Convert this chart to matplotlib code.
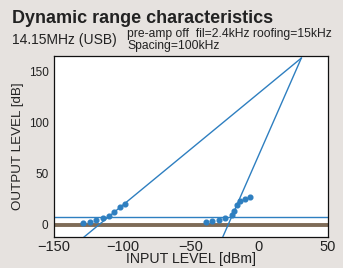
import matplotlib.pyplot as plt
import numpy as np

plt.rcParams['font.family'] = ['Liberation Sans', 'DejaVu Sans']

# measured points (input dBm, output dB)
fund_x = [-129, -124, -119, -114.5, -110, -106, -102, -98]
fund_y = [1.7, 2.9, 4.2, 6.2, 8.8, 12.5, 17.0, 20.6]
imd_x = [-39, -34.5, -29.5, -25, -20, -18, -16.4, -14, -10.5, -6.5]
imd_y = [2.2, 3.6, 4.9, 6.9, 9.5, 13.6, 19.2, 23.6, 25.6, 27.3]

# extrapolated lines (endpoints)
line1_x = [-128, 31]
line1_y = [-12, 163]
line3_x = [-26.5, 31]
line3_y = [-12, 163]

noise_floor = 0
mds_level = 8

blue = '#2e7fc0'
brown = '#7e6b57'
bg = '#e6e2df'

fig = plt.figure(figsize=(3.43, 2.68), dpi=100, facecolor=bg)
ax = fig.add_axes([54/343, 1 - 237/268, (328-54)/343, (237-56)/268])
ax.set_facecolor('white')

ax.axhline(noise_floor, color=brown, lw=2.8, zorder=2)
ax.axhline(mds_level, color=blue, lw=1.0, zorder=2)
ax.plot(line1_x, line1_y, color=blue, lw=1.0, zorder=3)
ax.plot(line3_x, line3_y, color=blue, lw=1.0, zorder=3)
ax.plot(fund_x, fund_y, 'o', color=blue, ms=3.4, zorder=4)
ax.plot(imd_x, imd_y, 'o', color=blue, ms=3.4, zorder=4)

ax.set_xlim(-145, 50.5)
ax.set_ylim(-12, 165)
ax.set_xticks([-150, -100, -50, 0, 50])
ax.set_xticklabels(['\u2212150', '\u2212100', '\u221250', '0', '50'])
ax.set_yticks([0, 50, 100, 150])
ax.tick_params(length=0, colors='#222222')
ax.tick_params(axis='x', labelsize=10.5, pad=2)
ax.tick_params(axis='y', labelsize=8.5, pad=4)
for s in ax.spines.values():
    s.set_linewidth(0.9)
    s.set_color('#111111')

ax.set_xlabel('INPUT LEVEL [dBm]', fontsize=10.2, color='#222222', labelpad=-1)
ax.set_ylabel('OUTPUT LEVEL [dB]', fontsize=9.6, color='#222222', labelpad=3)

fig.text(12/343, 1 - 23/268, 'Dynamic range characteristics', fontsize=13,
         fontweight='bold', color='#222222', ha='left', va='baseline')
fig.text(12/343, 1 - 44/268, '14.15MHz (USB)', fontsize=10, color='#222222',
         ha='left', va='baseline')
fig.text(127/343, 1 - 36.5/268, 'pre-amp off  fil=2.4kHz roofing=15kHz',
         fontsize=8.7, color='#222222', ha='left', va='baseline')
fig.text(127/343, 1 - 49.5/268, 'Spacing=100kHz',
         fontsize=8.7, color='#222222', ha='left', va='baseline')

fig.savefig('out.png', dpi=100, facecolor=bg)
